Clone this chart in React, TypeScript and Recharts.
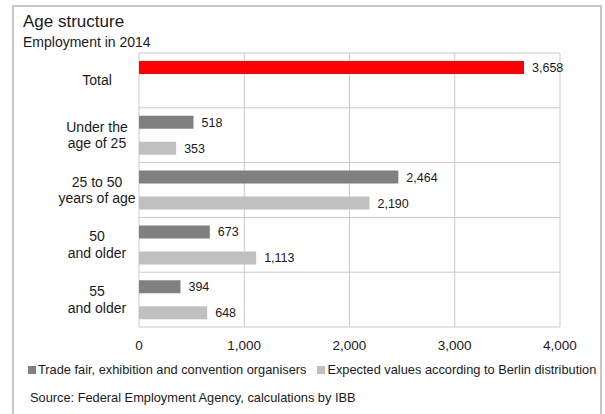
import { BarChart, Bar, XAxis, YAxis, CartesianGrid, Legend, LabelList, Cell } from "recharts";

const categories = ["Total", "Under the\nage of 25", "25 to 50\nyears of age", "50\nand older", "55\nand older"];
const organisers = [3658, 518, 2464, 673, 394];
const expected: (number | null)[] = [null, 353, 2190, 1113, 648];
const xTicks = [0, 1000, 2000, 3000, 4000];
const seriesNames = [
  "Trade fair, exhibition and convention organisers",
  "Expected values according to Berlin distribution",
];

const data = categories.map((name, i) => ({
  name,
  organisers: organisers[i],
  expected: expected[i],
}));

const FONT = "'Liberation Sans', Arial, sans-serif";
const fmt = (v: any) => (v == null ? "" : Number(v).toLocaleString("en-US"));

const CategoryTick = ({ x, y, payload }: any) => {
  const lines = String(payload.value).split("\n");
  const cx = x - 42;
  return (
    <text x={cx} y={y} textAnchor="middle" fontSize={14} fill="#1a1a1a" fontFamily={FONT}>
      {lines.map((l, i) => (
        <tspan key={i} x={cx} dy={i === 0 ? `${0.35 - (lines.length - 1) * 0.59}em` : "1.18em"}>
          {l}
        </tspan>
      ))}
    </text>
  );
};

const renderLegend = ({ payload }: any) => {
  const items = [...(payload || [])].sort(
    (a: any, b: any) => seriesNames.indexOf(a.value) - seriesNames.indexOf(b.value)
  );
  return (
    <div style={{ display: "flex", paddingLeft: 28, fontFamily: FONT, fontSize: 12.8, color: "#1a1a1a", lineHeight: "16px" }}>
      {items.map((p: any, i: number) => (
        <div key={i} style={{ display: "flex", alignItems: "center", marginRight: 11, whiteSpace: "nowrap" }}>
          <span style={{ width: 8, height: 8, background: p.color, marginRight: 2, display: "inline-block" }} />
          {p.value}
        </div>
      ))}
    </div>
  );
};

export default function App() {
  return (
    <div style={{ position: "absolute", left: 0, top: 0, width: 605, height: 414, overflow: "hidden", background: "#fff" }}>
      <div
        style={{
          position: "absolute",
          left: 12,
          top: 5,
          width: 586,
          height: 420,
          border: "2px solid #c6c6c6",
        }}
      />
      <div style={{ position: "absolute", left: 23, top: 12, fontFamily: FONT, fontSize: 17, color: "#1a1a1a", lineHeight: "20px" }}>
        Age structure
      </div>
      <div style={{ position: "absolute", left: 23, top: 34, fontFamily: FONT, fontSize: 14, color: "#1a1a1a", lineHeight: "16px" }}>
        Employment in 2014
      </div>
      <div style={{ position: "absolute", left: 0, top: 0 }}>
        <BarChart
          width={605}
          height={414}
          data={data}
          layout="vertical"
          margin={{ top: 53, right: 45, left: 0, bottom: 69 }}
          barCategoryGap={8}
          barGap={13}
        >
          <CartesianGrid
            stroke="#cacaca"
            horizontalCoordinatesGenerator={({ offset }: any) =>
              Array.from({ length: categories.length + 1 }, (_, i) => offset.top + (i * offset.height) / categories.length)
            }
          />
          <XAxis
            type="number"
            domain={[0, 4000]}
            ticks={xTicks}
            tickFormatter={fmt}
            axisLine={false}
            tickLine={false}
            tickSize={0}
            tickMargin={13}
            height={18}
            interval={0}
            tick={{ fontSize: 13.5, fill: "#1a1a1a", fontFamily: FONT }}
          />
          <YAxis
            type="category"
            dataKey="name"
            width={139}
            axisLine={false}
            tickLine={false}
            tickSize={0}
            tickMargin={0}
            interval={0}
            tick={<CategoryTick />}
          />
          <Legend
            layout="horizontal"
            verticalAlign="middle"
            align="center"
            wrapperStyle={{ top: 362, left: 0, width: 605 }}
            content={renderLegend}
          />
          <Bar dataKey="organisers" name={seriesNames[0]} fill="#808080" isAnimationActive={false}>
            {data.map((d, i) => (
              <Cell key={i} fill={i === 0 ? "#ff0000" : "#808080"} />
            ))}
            <LabelList dataKey="organisers" position="right" offset={8} formatter={fmt} fontSize={12.5} fill="#1a1a1a" fontFamily={FONT} />
          </Bar>
          <Bar dataKey="expected" name={seriesNames[1]} fill="#c0c0c0" isAnimationActive={false}>
            <LabelList dataKey="expected" position="right" offset={8} formatter={fmt} fontSize={12.5} fill="#1a1a1a" fontFamily={FONT} />
          </Bar>
        </BarChart>
      </div>
      <div style={{ position: "absolute", left: 30, top: 390, fontFamily: FONT, fontSize: 12.8, color: "#1a1a1a", lineHeight: "16px" }}>
        Source: Federal Employment Agency, calculations by IBB
      </div>
    </div>
  );
}
